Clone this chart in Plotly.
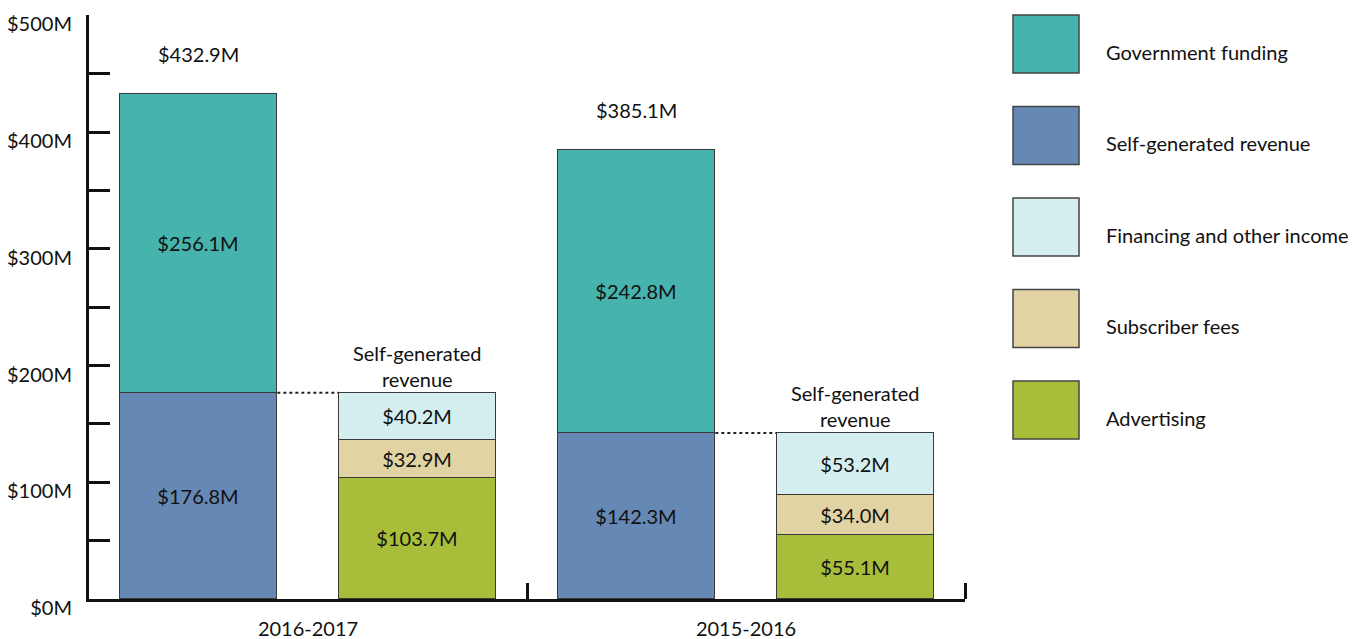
import plotly.graph_objects as go

# ---- data ----
periods = ["2016-2017", "2015-2016"]
government_funding = [256.1, 242.8]
self_generated = [176.8, 142.3]
financing_other = [40.2, 53.2]
subscriber_fees = [32.9, 34.0]
advertising = [103.7, 55.1]

series_names = ["Government funding", "Self-generated revenue",
                "Financing and other income", "Subscriber fees", "Advertising"]
series_colors = ["#47B3AD", "#6688B4", "#D5EEF0", "#E1D3A3", "#A8BE3A"]
y_tick_vals = [0, 100, 200, 300, 400, 500]
y_tick_text = ["$0M", "$100M", "$200M", "$300M", "$400M", "$500M"]

FONT = "Lato, 'Open Sans', sans-serif"
OFF = 8                      # browser body margin
W, H = 1356 - OFF, 639 - OFF
L, T = 89 - OFF, 15 - OFF
PW, PH = 876, 584
R, B = W - L - PW, H - T - PH
BARW = 0.72
FS = 20

main_x = [0, 2]      # total bars
split_x = [1, 3]     # breakdown bars
cat_x = [0.5, 2.5]

fig = go.Figure()
outline = dict(color="#3a3a3a", width=1)
txt = dict(family=FONT, size=FS, color="#111")

def add_bar(x, y, name, color):
    fig.add_trace(go.Bar(
        x=x, y=y, name=name, width=BARW,
        marker=dict(color=color, line=outline),
        texttemplate="$%{y:.1f}M", textposition="inside",
        insidetextanchor="middle", textangle=0,
        textfont=txt, insidetextfont=txt, constraintext="none",
        hoverinfo="skip", showlegend=False))

add_bar(main_x, self_generated, series_names[1], series_colors[1])
add_bar(main_x, government_funding, series_names[0], series_colors[0])
add_bar(split_x, advertising, series_names[4], series_colors[4])
add_bar(split_x, subscriber_fees, series_names[3], series_colors[3])
add_bar(split_x, financing_other, series_names[2], series_colors[2])

annotations = []
shapes = []
for i in range(len(periods)):
    total = government_funding[i] + self_generated[i]
    annotations.append(dict(x=main_x[i], y=total, xref="x", yref="y",
                            text=f"${total:.1f}M", showarrow=False,
                            yanchor="bottom", yshift=26, font=txt))
    annotations.append(dict(x=split_x[i], y=self_generated[i], xref="x", yref="y",
                            text="Self-generated<br>revenue", showarrow=False,
                            yanchor="bottom", yshift=0, font=txt))
    shapes.append(dict(type="line", xref="x", yref="y",
                       x0=main_x[i] + BARW / 2, x1=split_x[i] - BARW / 2,
                       y0=self_generated[i], y1=self_generated[i],
                       line=dict(color="#222", width=2, dash="dot")))

# legend drawn as large swatches (positions given in reference-screen pixels)
def px(x):
    return (x - OFF - L) / PW
def py(y):
    return (H - B - (y - OFF)) / PH

for k, (nm, col) in enumerate(zip(series_names, series_colors)):
    top = 15 + k * 91.5
    shapes.append(dict(type="rect", xref="paper", yref="paper",
                       x0=px(1013), x1=px(1079), y0=py(top + 58), y1=py(top),
                       fillcolor=col, line=dict(color="#444", width=1.5)))
    annotations.append(dict(xref="paper", yref="paper", x=px(1104), y=py(top + 37),
                            text=nm, showarrow=False, xanchor="left", yanchor="middle",
                            font=txt))

fig.update_layout(
    template="none",
    width=W, height=H,
    margin=dict(l=L, r=R, t=T, b=B, pad=0, autoexpand=False),
    plot_bgcolor="white", paper_bgcolor="white",
    barmode="stack", bargap=0,
    font=dict(family=FONT, size=FS, color="#111"),
    annotations=annotations, shapes=shapes,
    showlegend=False,
    xaxis=dict(range=[-0.5, 3.5], showgrid=False, zeroline=False, automargin=False,
               showline=True, linecolor="#111", linewidth=3,
               tickmode="array", tickvals=cat_x, ticktext=periods,
               ticks="", ticklabelstandoff=10,
               minor=dict(tickmode="array", tickvals=[1.5, 3.5], ticks="inside",
                          ticklen=16, tickwidth=2.5, tickcolor="#111", showgrid=False),
               tickfont=txt, fixedrange=True),
    yaxis=dict(range=[0, 500.4], showgrid=False, zeroline=False, automargin=False,
               showline=True, linecolor="#111", linewidth=3,
               tickmode="array", tickvals=y_tick_vals, ticktext=y_tick_text,
               ticks="inside", ticklen=21, tickwidth=2.5, tickcolor="#111",
               ticklabelshift=9, ticklabelstandoff=10,
               minor=dict(dtick=50, ticks="inside", ticklen=21, tickwidth=2.5,
                          tickcolor="#111", showgrid=False),
               tickfont=txt, fixedrange=True),
)

fig.write_html("out.html")
